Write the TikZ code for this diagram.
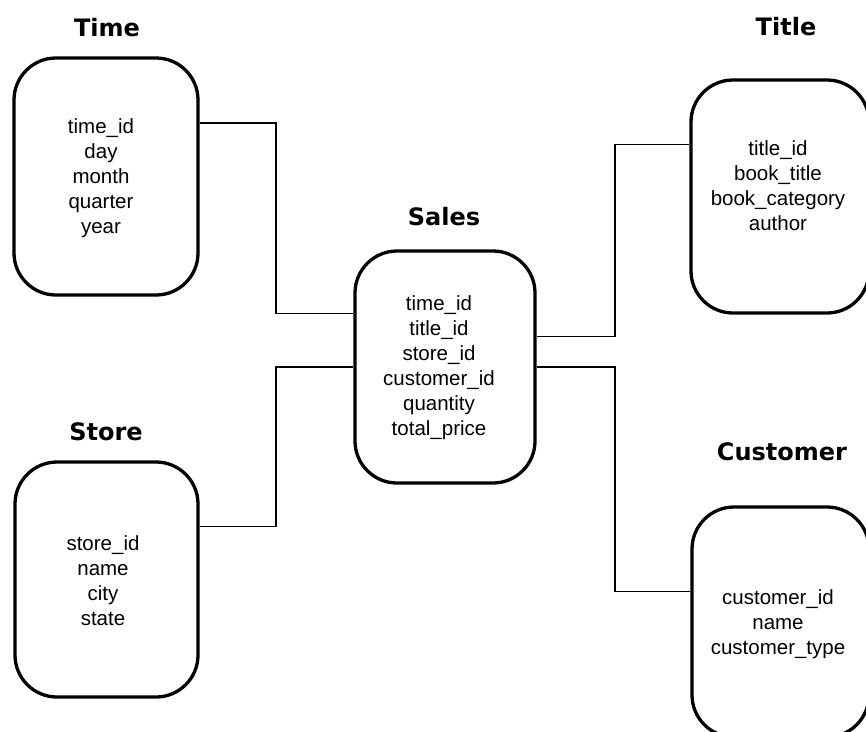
\documentclass[tikz,border=0pt]{standalone}
\usepackage{fontspec}
\setmainfont{Liberation Sans}
\newfontfamily\headfont{DejaVu Sans}
\usetikzlibrary{calc}

\tikzset{
  table/.style={draw=black, line width=3.3pt, rounded corners=42pt,
    rectangle, inner sep=0pt},
  fields/.style={align=center, inner sep=0pt,
    font=\fontsize{20.5}{25}\selectfont},
  heading/.style={inner sep=0pt, font=\headfont\bfseries\fontsize{24}{28}\selectfont},
  link/.style={draw=black, line width=1.5pt}
}

\begin{document}
\begin{tikzpicture}[x=1pt, y=-1pt]
  \useasboundingbox (0,0) rectangle (866,731);
  \clip (0,0) rectangle (866,731);

  % dimension tables and the fact table
  \node[table, minimum width=184pt, minimum height=237pt] (Time) at (106,176.5) {};
  \node[table, minimum width=180pt, minimum height=232pt] (Sales) at (445,367) {};
  \node[table, minimum width=178pt, minimum height=233pt] (Title) at (780,196.5) {};
  \node[table, minimum width=183pt, minimum height=235pt] (Store) at (106.5,579.5) {};
  \node[table, minimum width=177pt, minimum height=230pt] (Customer) at (780.5,622) {};

  % table names
  \node[heading] (timeName) at (107,28) {Time};
  \node[heading] (salesName) at (444,217) {Sales};
  \node[heading] (titleName) at (786,27) {Title};
  \node[heading] (storeName) at (106,432) {Store};
  \node[heading] (customerName) at (782,452) {Customer};

  % attribute lists
  \node[fields] (timeFields) at (101,178) {time\_id\\day\\month\\quarter\\year};
  \node[fields] (salesFields) at (439,368) {time\_id\\title\_id\\store\_id\\customer\_id\\quantity\\total\_price};
  \node[fields] (titleFields) at (778,185.5) {title\_id\\book\_title\\book\_category\\author};
  \node[fields] (storeFields) at (103,581) {store\_id\\name\\city\\state};
  \node[fields] (customerFields) at (778,624) {customer\_id\\name\\customer\_type};

  % vertical runs of the connectors
  \coordinate (busL) at (276,0);
  \coordinate (busR) at (615,0);

  % attachment points on the table outlines
  \coordinate (timeOut) at ($(Time.north east)!0.278!(Time.south east)$);
  \coordinate (salesInT) at ($(Sales.north west)!0.272!(Sales.south west)$);
  \coordinate (storeOut) at ($(Store.north east)!0.277!(Store.south east)$);
  \coordinate (salesOutT) at ($(Sales.north east)!0.371!(Sales.south east)$);
  \coordinate (titleIn) at ($(Title.north west)!0.279!(Title.south west)$);
  \coordinate (customerIn) at ($(Customer.north west)!0.37!(Customer.south west)$);

  % connectors
  \draw[link] (timeOut) -| (busL |- salesInT) -- (salesInT);
  \draw[link] (storeOut) -| (busL |- Sales.west) -- (Sales.west);
  \draw[link] (salesOutT) -| (busR |- titleIn) -- (titleIn);
  \draw[link] (Sales.east) -| (busR |- customerIn) -- (customerIn);
\end{tikzpicture}
\end{document}
